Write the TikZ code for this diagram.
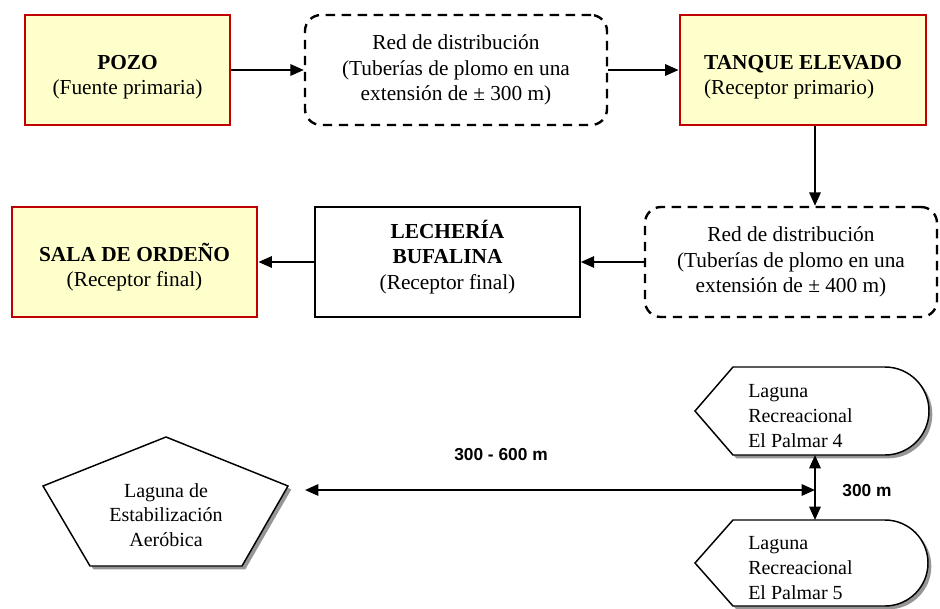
\documentclass[tikz,border=0pt]{standalone}
\usepackage{fontspec}
\setmainfont{Liberation Serif}
\newfontfamily\etiqfont{Liberation Sans}
\usetikzlibrary{arrows.meta,shadows}
\definecolor{amarillo}{RGB}{255,255,204}
\definecolor{rojo}{RGB}{192,0,0}
\definecolor{sombra}{RGB}{150,150,150}
\newcommand{\bajar}{\rule{0pt}{21pt}}
\newcommand{\subir}{\rule[-11pt]{0pt}{0pt}}

\begin{document}
\begin{tikzpicture}[
        x=0.75pt, y=-0.75pt,
        >={Triangle[length=10pt,width=8.5pt]},
        every node/.style={font=\fontsize{16}{19}\selectfont, inner sep=0pt},
        receptor/.style={
            rectangle,
            draw=rojo,
            fill=amarillo,
            line width=2.2pt,
            minimum height=82.5pt,
            align=center,
        },
        tuberia/.style={
            rectangle,
            draw,
            dash pattern=on 7pt off 5pt,
            line width=1.8pt,
            rounded corners=12pt,
            minimum height=82.5pt,
            align=center,
        },
        caja/.style={
            rectangle,
            draw,
            line width=1.2pt,
            minimum height=82.5pt,
            align=center,
        },
        laguna/.style={font=\fontsize{15}{18.5}\selectfont, align=left},
        forma/.style={
            draw,
            fill=white,
            line width=1.1pt,
            drop shadow={shadow xshift=2.5pt, shadow yshift=-2.5pt, fill=sombra, opacity=1},
        },
        distancia/.style={font=\etiqfont\bfseries\fontsize{13}{15}\selectfont},
        flecha/.style={->, line width=1.5pt},
    ]

    \useasboundingbox (0,0) rectangle (940,608);

    \node (pozo) at (127.5,70) [receptor, minimum width=153.75pt] {\bajar\textbf{POZO}\\(Fuente primaria)};
    \node (red1) at (456,70) [tuberia, minimum width=226.5pt] {Red de distribución\\(Tuberías de plomo en una\\extensión de ± 300 m)};
    \node (tanque) at (803,70) [receptor, minimum width=184.5pt, align=left] {\bajar\textbf{TANQUE ELEVADO}\\(Receptor primario)};
    \node (red2) at (791,262) [tuberia, minimum width=219pt] {Red de distribución\\(Tuberías de plomo en una\\extensión de ± 400 m)};
    \node (lecheria) at (447.5,262) [caja, minimum width=198.75pt] {\textbf{LECHERÍA}\\\textbf{BUFALINA}\\(Receptor final)\subir};
    \node (sala) at (134.5,262) [receptor, minimum width=183.75pt] {\bajar\textbf{SALA DE ORDEÑO}\\(Receptor final)};

    \draw [flecha] (pozo) -- (red1);
    \draw [flecha] (red1) -- (tanque);
    \draw [flecha] ([xshift=9pt]tanque.south) -- ([xshift=9pt]tanque.south |- red2.north);
    \draw [flecha] (red2) -- (lecheria);
    \draw [flecha] (lecheria) -- (sala);

    \draw [forma] (166,437) -- (288,486) -- (242,566) -- (90,566) -- (43,486) -- cycle;
    \draw [forma] (695,411) -- (733,367) -- (885,367) arc[start angle=-90, end angle=90, radius=44] -- (733,455) -- cycle;
    \draw [forma] (695,563) -- (733,520) -- (885,520) arc[start angle=-90, end angle=90, radius=43] -- (733,606) -- cycle;

    \node (estab) at (166,515) [laguna, align=center] {Laguna de\\Estabilización\\Aeróbica};
    \node (palmar4) at (748,416) [laguna, anchor=west] {Laguna\\Recreacional\\El Palmar 4};
    \node (palmar5) at (748,568) [laguna, anchor=west] {Laguna\\Recreacional\\El Palmar 5};

    \coordinate (penta) at (305,490);
    \coordinate (cruce) at (815,490);
    \coordinate (p4) at (815,455);
    \coordinate (p5) at (815,520);

    \draw [flecha, <->] (penta) -- (cruce);
    \draw [flecha, <->] (p4) -- (p5);

    \node (d1) at (501,455) [distancia] {300 - 600 m};
    \node (d2) at (867,491) [distancia] {300 m};

\end{tikzpicture}
\end{document}
